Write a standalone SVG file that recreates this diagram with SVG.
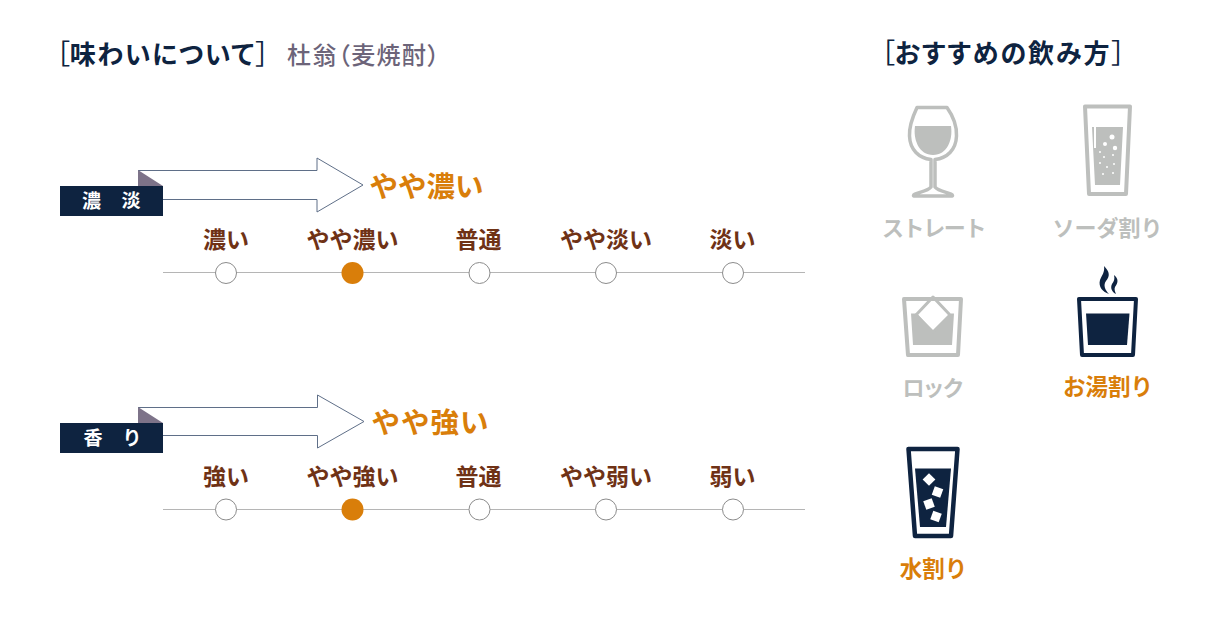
<svg xmlns="http://www.w3.org/2000/svg" width="1221" height="621" viewBox="0 0 1221 621">
<style>
text{font-family:"Noto Sans CJK JP","Noto Sans",sans-serif}
.h{font-size:26px;font-weight:700;fill:#0e2340;letter-spacing:1.500px;font-feature-settings:"palt"}
.br{font-weight:400;font-size:27.500px;letter-spacing:0}
.s{font-size:24px;font-weight:500;fill:#6c6479;letter-spacing:1.400px;font-feature-settings:"palt"}
.o{font-size:28.500px;font-weight:700;fill:#d97e0a}
.t{font-size:23px;font-weight:700;fill:#6f3216;text-anchor:middle}
.w{font-size:19px;font-weight:700;fill:#fff;text-anchor:middle}
.g{font-size:22px;font-weight:700;fill:#bdbfbd;text-anchor:middle}
.a{font-size:22.500px;font-weight:700;fill:#d97e0a;text-anchor:middle}
.ar{fill:#fff;stroke:#5f6f88;stroke-width:1}
.ln{stroke:#b5b5b5;stroke-width:1}
.c{fill:#fff;stroke:#8c8c8c;stroke-width:1}
.on{fill:#d97e0a}
.lb{fill:#0e2340}
.f{fill:#7d7389}
.gs{fill:none;stroke:#bdbfbd;stroke-linejoin:round}
.gf{fill:#bdbfbd}
.ns{fill:none;stroke:#0e2340;stroke-linejoin:round}
.nf{fill:#0e2340}
</style>
<g id="title"><text class="h" x="56" y="64"><tspan class="br">［</tspan>味わいについて<tspan class="br">］</tspan></text><text class="s" x="287" y="64">杜翁（麦焼酎）</text></g>
<g id="title2"><text class="h" x="881" y="63" style="letter-spacing:2px"><tspan class="br">［</tspan>おすすめの飲み方<tspan class="br">］</tspan></text></g>
<g id="connectors">
<line class="ln" x1="163" y1="272.500" x2="805" y2="272.500"/>
<line class="ln" x1="163" y1="509.500" x2="805" y2="509.500"/>
<path class="ar" d="M138 170.500H317V158L363 185 317 212V199.500H163"/>
<path class="ar" d="M138 407.500H317.500V395L364 421.500 317.500 448V435.500H163"/>
</g>
<g id="badge1"><polygon class="f" points="138,170 163,186 138,186"/><rect class="lb" x="60" y="186" width="103" height="30"/><text class="w" x="91.500" y="208">濃</text><text class="w" x="131" y="208">淡</text></g>
<g id="badge2"><polygon class="f" points="138,407 163,423 138,423"/><rect class="lb" x="60" y="423" width="103" height="30"/><text class="w" x="93" y="445">香</text><text class="w" x="132" y="445">り</text></g>
<g id="result1"><text class="o" x="369.500" y="197">やや濃い</text></g>
<g id="result2"><text class="o" x="371.500" y="433" style="letter-spacing:1px">やや強い</text></g>
<g id="scale1">
<text class="t" x="226" y="248">濃い</text><text class="t" x="352.500" y="248">やや濃い</text><text class="t" x="478.500" y="248">普通</text><text class="t" x="606" y="248">やや淡い</text><text class="t" x="732.500" y="248">淡い</text>
<circle class="c" cx="226" cy="273" r="10.500"/><circle class="on" cx="352.500" cy="273" r="11"/><circle class="c" cx="479.500" cy="273" r="10.500"/><circle class="c" cx="606" cy="273" r="10.500"/><circle class="c" cx="733" cy="273" r="10.500"/>
</g>
<g id="scale2">
<text class="t" x="226" y="485">強い</text><text class="t" x="352.500" y="485">やや強い</text><text class="t" x="478.500" y="485">普通</text><text class="t" x="606" y="485">やや弱い</text><text class="t" x="732.500" y="485">弱い</text>
<circle class="c" cx="226" cy="509.500" r="10.500"/><circle class="on" cx="352.500" cy="509.500" r="11"/><circle class="c" cx="479.500" cy="509.500" r="10.500"/><circle class="c" cx="606" cy="509.500" r="10.500"/><circle class="c" cx="733" cy="509.500" r="10.500"/>
</g>
<g id="straight">
<path class="gs" stroke-width="3.500" d="M917 107.500H947C953 116 957 126 956.500 136C956 150 947 158 935 159.500V187C938 191 946 192 951 194C953 195 953 196 951 196H915C913 196 913 195 915 194C920 192 928 191 931 187V159.500C919 158 910 150 909.500 136C909 126 913 116 917 107.500Z"/>
<path class="gf" d="M915 126H951C953 140 947 155 933 155C919 155 913 140 915 126Z"/>
<text class="g" x="933.500" y="236" style="letter-spacing:-1.400px">ストレート</text>
</g>
<g id="soda">
<path class="gs" stroke-width="4" d="M1085 106.500H1130L1126 194H1089Z"/>
<path class="gf" d="M1092 127H1094V148H1096V127H1123L1120 185H1095Z"/>
<g fill="#fff"><circle cx="1112" cy="137" r="2.500"/><circle cx="1105" cy="144" r="2"/><circle cx="1115" cy="148" r="2.200"/><circle cx="1100" cy="152" r="1"/><circle cx="1104" cy="157" r="1"/><circle cx="1113" cy="155" r="1"/><circle cx="1100" cy="163" r="1"/><circle cx="1114" cy="164" r="1"/><circle cx="1107" cy="167" r="1"/><circle cx="1103" cy="174" r="1"/><circle cx="1113" cy="173" r="1"/></g>
<text class="g" x="1107.500" y="236">ソーダ割り</text>
</g>
<g id="rock">
<path class="gs" stroke-width="4" d="M904 299H961L958 355H908Z"/>
<path class="gf" d="M911 313.500H917L933 331 951 313.500H954L952 345H913Z"/>
<path class="gs" stroke-width="3" d="M933 297L950 315 933 332 916 315Z"/>
<text class="g" x="932.500" y="396" style="letter-spacing:-2px">ロック</text>
</g>
<g id="oyuwari">
<path class="ns" stroke-width="4" d="M1079 299H1136L1133 355H1082Z"/>
<path class="nf" d="M1104 266C1110 272 1110 276 1106 281C1103 285 1105 290 1109 294C1103 292 1098 287 1100 280C1102 275 1105 272 1104 266ZM1114 275C1119 279 1118 283 1115 287C1114 289 1115 292 1116 294C1112 292 1110 288 1112 284C1114 281 1115 279 1114 275Z"/>
<path class="nf" d="M1086 313.500H1129.500L1127 345H1088Z"/>
<text class="a" x="1108" y="395">お湯割り</text>
</g>
<g id="mizuwari">
<path class="ns" stroke-width="4.500" d="M908.500 449H957.500L951 536H915Z"/>
<path class="nf" d="M915 468.500H951L946 527H920Z"/>
<g fill="#fff"><rect x="-4.500" y="-4.500" width="9" height="9" transform="translate(929 479.500) rotate(45)"/><rect x="-4.500" y="-4.500" width="9" height="9" transform="translate(937.500 492) rotate(20)"/><rect x="-4.500" y="-4.500" width="9" height="9" transform="translate(929 504) rotate(-20)"/><rect x="-4.500" y="-4.500" width="9" height="9" transform="translate(936 516.500) rotate(20)"/></g>
<text class="a" x="933.500" y="577">水割り</text>
</g>
</svg>
